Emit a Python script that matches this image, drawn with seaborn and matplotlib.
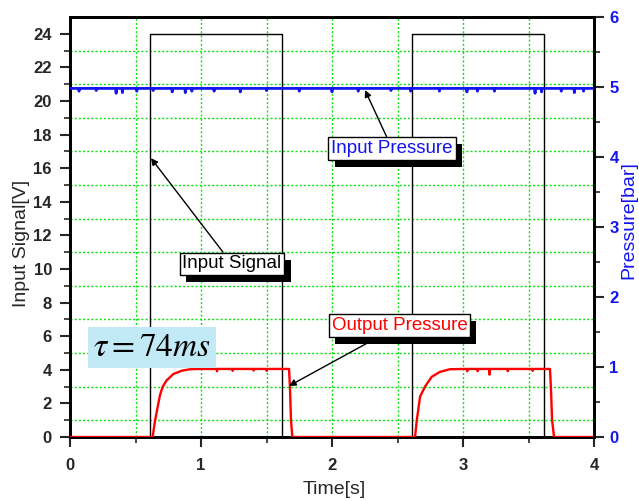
import numpy as np
import pandas as pd
import matplotlib
matplotlib.use("Agg")
import matplotlib.pyplot as plt
import matplotlib.patheffects as pe
from matplotlib.patches import Rectangle
from matplotlib.ticker import MultipleLocator
import seaborn as sns

# ---- data -------------------------------------------------------------
# Valve command (square wave, volts)
signal_t = [0.0, 0.61, 0.61, 1.615, 1.615, 2.61, 2.61, 3.615, 3.615, 4.0]
signal_v = [0, 0, 24, 24, 0, 0, 24, 24, 0, 0]

# Output pressure (bar)
output_t = [0.000, 0.205, 0.207, 0.209, 0.340, 0.342, 0.344, 0.370, 0.372, 0.374,
            0.510, 0.512, 0.514, 0.631,
            0.646, 0.662, 0.687, 0.708, 0.738, 0.789, 0.853, 0.916, 1.005,
            1.120, 1.122, 1.124, 1.240, 1.242, 1.244, 1.400, 1.402, 1.404,
            1.500, 1.502, 1.504, 1.672,
            1.679, 1.687, 1.697,
            1.780, 1.782, 1.784, 2.160, 2.162, 2.164, 2.290, 2.292, 2.294,
            2.340, 2.342, 2.344, 2.400, 2.402, 2.404, 2.634,
            2.646, 2.672, 2.710, 2.761, 2.824, 2.900, 3.000,
            3.030, 3.032, 3.034, 3.110, 3.112, 3.114, 3.200, 3.202, 3.204,
            3.340, 3.342, 3.344, 3.530, 3.532, 3.534, 3.664,
            3.671, 3.680, 3.695,
            3.753, 3.755, 3.757, 3.840, 3.842, 3.844, 4.000]
output_bar = [0.0, 0.0, -0.03, 0.0, 0.0, -0.05, 0.0, 0.0, -0.04, 0.0,
              0.0, -0.07, 0.0, 0.0,
              0.20, 0.36, 0.60, 0.72, 0.81, 0.90, 0.947, 0.968, 0.972,
              0.972, 0.94, 0.972, 0.972, 0.945, 0.972, 0.972, 0.95, 0.972,
              0.972, 0.945, 0.972, 0.972,
              0.71, 0.24, 0.0,
              0.0, -0.05, 0.0, 0.0, -0.04, 0.0, 0.0, -0.06, 0.0,
              0.0, -0.04, 0.0, 0.0, -0.03, 0.0, 0.0,
              0.22, 0.576, 0.72, 0.86, 0.93, 0.968, 0.972,
              0.972, 0.94, 0.972, 0.972, 0.94, 0.972, 0.972, 0.89, 0.972,
              0.972, 0.94, 0.972, 0.972, 0.945, 0.972, 0.972,
              0.71, 0.24, 0.0,
              0.0, -0.08, 0.0, 0.0, -0.06, 0.0, 0.0]

# Supply pressure (bar): steady level with short downward spikes
supply_level = 4.98
supply_dip_t = [0.069, 0.20, 0.352, 0.40, 0.51, 0.635, 0.78, 0.88, 0.93,
                1.10, 1.30, 1.50, 1.75, 2.00, 2.20, 2.45, 2.60,
                2.82, 3.03, 3.11, 3.24, 3.55, 3.60, 3.75, 3.85, 3.92]
supply_dip_bar = [4.94, 4.95, 4.91, 4.92, 4.94, 4.95, 4.93, 4.92, 4.94,
                  4.94, 4.93, 4.95, 4.94, 4.93, 4.94, 4.95, 4.94,
                  4.94, 4.93, 4.94, 4.94, 4.91, 4.93, 4.94, 4.92, 4.94]

supply_t = [0.0]
supply_bar = [supply_level]
for t, b in zip(supply_dip_t, supply_dip_bar):
    supply_t += [t - 0.003, t, t + 0.003]
    supply_bar += [supply_level, b, supply_level]
supply_t.append(4.0)
supply_bar.append(supply_level)

signal_df = pd.DataFrame({"t": signal_t, "v": signal_v})
output_df = pd.DataFrame({"t": output_t, "p": output_bar})
supply_df = pd.DataFrame({"t": supply_t, "p": supply_bar})

# ---- style ------------------------------------------------------------
sns.set_style("ticks")
plt.rcParams["font.family"] = ["Liberation Sans", "DejaVu Sans"]
plt.rcParams["mathtext.fontset"] = "stix"

GRID_GREEN = "#11e011"
BLUE = "#1414f0"

fig = plt.figure(figsize=(6.39, 5.01), dpi=100)
ax = fig.add_axes([0.10955, 0.12774, 0.82003, 0.83832])
ax2 = ax.twinx()

# ---- lines ------------------------------------------------------------
sns.lineplot(data=signal_df, x="t", y="v", ax=ax, estimator=None, sort=False,
             color="black", linewidth=1.0, zorder=3)
sns.lineplot(data=supply_df, x="t", y="p", ax=ax2, estimator=None, sort=False,
             color=BLUE, linewidth=2.0, zorder=3)
sns.lineplot(data=output_df, x="t", y="p", ax=ax2, estimator=None, sort=False,
             color="red", linewidth=1.7, zorder=4)

# ---- axes -------------------------------------------------------------
ax.set_xlim(0, 4)
ax.set_ylim(0, 25)
ax2.set_ylim(0, 6)

ax.xaxis.set_major_locator(MultipleLocator(1))
ax.xaxis.set_minor_locator(MultipleLocator(0.5))
ax.yaxis.set_major_locator(MultipleLocator(2))
ax.set_yticks(np.arange(1, 25, 2), minor=True)
ax2.yaxis.set_major_locator(MultipleLocator(1))
ax2.yaxis.set_minor_locator(MultipleLocator(0.5))

ax.tick_params(axis="both", which="major", direction="out", length=7, width=1.5,
               labelsize=12, pad=6)
ax.tick_params(axis="both", which="minor", direction="out", length=4, width=1.2)
ax.tick_params(axis="x", which="major", pad=8)
ax2.tick_params(axis="y", which="major", direction="out", length=7, width=1.5,
                labelsize=12, labelcolor=BLUE, pad=4)
ax2.tick_params(axis="y", which="minor", direction="out", length=4, width=1.2)
for lab in ax.get_xticklabels() + ax.get_yticklabels() + ax2.get_yticklabels():
    lab.set_fontweight("bold")

ax.grid(which="both", axis="x", color=GRID_GREEN, linestyle=(0, (1.5, 1.5)), linewidth=1.0)
ax.grid(which="minor", axis="y", color=GRID_GREEN, linestyle=(0, (1.5, 1.5)), linewidth=1.0)
ax.grid(which="major", axis="y", visible=False)
ax.set_axisbelow(True)

for a in (ax, ax2):
    for s in a.spines.values():
        s.set_linewidth(2.0)
        s.set_color("black")

ax.set_xlabel("Time[s]", fontsize=14)
ax.set_ylabel("Input Signal[V]", fontsize=14)
ax2.set_ylabel("Pressure[bar]", fontsize=14, color=BLUE)
ax.xaxis.set_label_coords(0.505, -0.105)
ax.yaxis.set_label_coords(-0.076, 0.462)
ax2.yaxis.set_label_coords(1.050, 0.517)

# ---- annotations ------------------------------------------------------
shadow = [pe.withSimplePatchShadow(offset=(4.5, -5), shadow_rgbFace="black", alpha=1.0)]
arrow = dict(arrowstyle="-|>", color="black", lw=1.0, mutation_scale=10,
             shrinkA=0, shrinkB=0)


def callout(text, xy, xytext, color):
    t = ax2.annotate(text, xy=xy, xycoords=ax.transData,
                     xytext=xytext, textcoords=ax.transData,
                     ha="center", va="center", fontsize=13.5, color=color,
                     bbox=dict(boxstyle="square,pad=0.15", fc="white", ec="black", lw=1.0),
                     arrowprops=arrow, zorder=10)
    t.get_bbox_patch().set_path_effects(shadow)
    return t


callout("Input Pressure", (2.252, 20.65), (2.458, 17.18), BLUE)
callout("Input Signal", (0.618, 16.6), (1.237, 10.3), "black")
callout("Output Pressure", (1.672, 3.04), (2.515, 6.64), "red")

ax2.add_patch(Rectangle((0.137, 4.11), 0.977, 2.44, transform=ax.transData,
                        facecolor="#c2e9f6", edgecolor="none", zorder=9))
ax2.text(0.626, 5.33, r"$\tau = 74ms$", transform=ax.transData,
         ha="center", va="center", fontsize=24, color="black", zorder=10)

fig.savefig("out.png", dpi=100)
